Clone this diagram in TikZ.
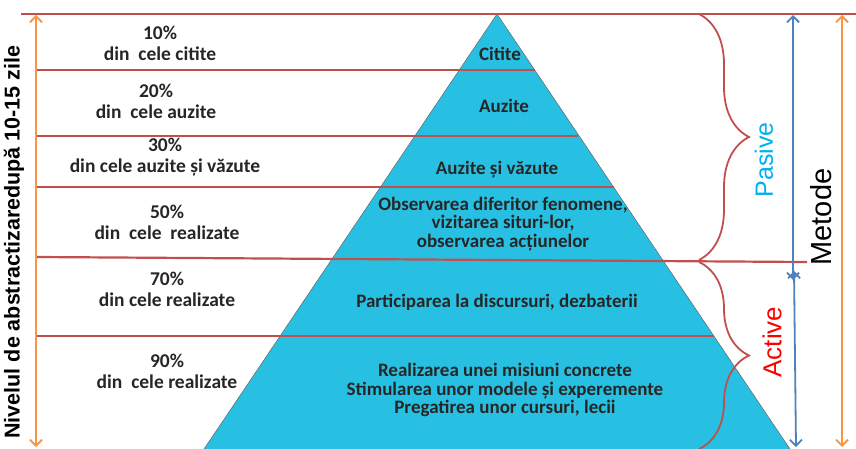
\documentclass[tikz,border=0pt]{standalone}
\usepackage{fontspec}
\setmainfont{Carlito}
\newfontfamily\arialfont{Liberation Sans}
\usetikzlibrary{arrows.meta,decorations.pathreplacing}
\definecolor{pyrblue}{RGB}{40,192,226}
\definecolor{lvlred}{RGB}{192,80,77}
\definecolor{axorange}{RGB}{247,150,70}
\definecolor{axblue}{RGB}{79,129,189}
\definecolor{pasiveblue}{RGB}{0,176,240}
\tikzset{x=1pt,y=-1pt,
  level/.style={draw=lvlred,line width=2.2pt},
  pct/.style={font=\bfseries\fontsize{19.5}{21}\selectfont,align=center,text=black!85},
  layer/.style={font=\bfseries\fontsize{19}{18.5}\selectfont,align=center,text=black!85},
  axis/.style={line width=1.8pt,{Straight Barb[length=6pt,width=12pt]}-{Straight Barb[length=6pt,width=12pt]}},
  group/.style={draw=lvlred,line width=1.8pt,decorate,decoration={brace,amplitude=50pt}}}

\begin{document}
\begin{tikzpicture}
        \useasboundingbox (0,0) rectangle (856,449);
        \clip (0,0) rectangle (856,449);

        % pyramid
        \coordinate (apex) at (497,14);
        \coordinate (bl)   at (202,452);
        \coordinate (br)   at (792,452);
        \filldraw [fill=pyrblue,draw=black!60,line width=0.5pt] (apex) -- (bl) -- (br) -- cycle;

        % levels
        \draw [level] (21,14)  -- (856,14);
        \draw [level] (36,70)  -- (535,70);
        \draw [level] (36,136) -- (578,136);
        \draw [level] (36,187) -- (614,187);
        \draw [level] (36,257) -- (807,262);
        \draw [level] (36,336) -- (714,336);

        % percentages
        \node [pct] (p10) at (160,43)  {10\%\\din~ cele citite};
        \node [pct] (p20) at (156,101) {20\%\\din~ cele auzite};
        \node [pct] (p30) at (165,157) {30\%\\din cele auzite și văzute};
        \node [pct] (p50) at (167,222) {50\%\\din~ cele~ realizate};
        \node [pct] (p70) at (167,289) {70\%\\din cele realizate};
        \node [pct] (p90) at (167,371) {90\%\\din~ cele realizate};

        % pyramid layers
        \node [layer] (citite) at (500,54)  {Citite};
        \node [layer] (auzite) at (504,106) {Auzite};
        \node [layer] (vazute) at (497,170) {Auzite și văzute};
        \node [layer] (observ) at (503,224) {Observarea diferitor fenomene,\\vizitarea situri-lor,\\observarea acțiunelor};
        \node [layer] (discur) at (497,302) {Participarea la discursuri, dezbaterii};
        \node [layer] (misiun) at (505,390) {Realizarea unei misiuni concrete\\Stimularea unor modele și experemente\\Pregatirea unor cursuri, lecii};

        % axes
        \coordinate (lt) at (36,15);   \coordinate (lb) at (36,447);
        \coordinate (bt) at (793,15);  \coordinate (bm) at (793,280);
        \coordinate (bn) at (794,271); \coordinate (bb) at (796,447);
        \coordinate (rt) at (842,15);  \coordinate (rb) at (842,447);
        \draw [axis,axorange] (lt) -- (lb);
        \draw [axis,axblue]   (bt) -- (bm);
        \draw [axis,axblue]   (bn) -- (bb);
        \draw [axis,axorange] (rt) -- (rb);

        \node [rotate=90,font=\arialfont\bfseries\fontsize{21.5}{24}\selectfont] (nivel) at (14,242) {Nivelul de abstractizaredupă 10-15 zile};

        % method groups
        \draw [group] (699,14)  -- (699,260);
        \draw [group] (699,262) -- (699,449);
        \node [rotate=90,text=pasiveblue,font=\arialfont\fontsize{25}{28}\selectfont] (pasive) at (764,160) {Pasive};
        \node [rotate=90,text=red,font=\arialfont\fontsize{26}{28}\selectfont]        (active) at (772,342) {Active};
        \node [rotate=90,font=\arialfont\fontsize{29}{32}\selectfont]                 (metode) at (821,217) {Metode};
      \end{tikzpicture}
\end{document}
